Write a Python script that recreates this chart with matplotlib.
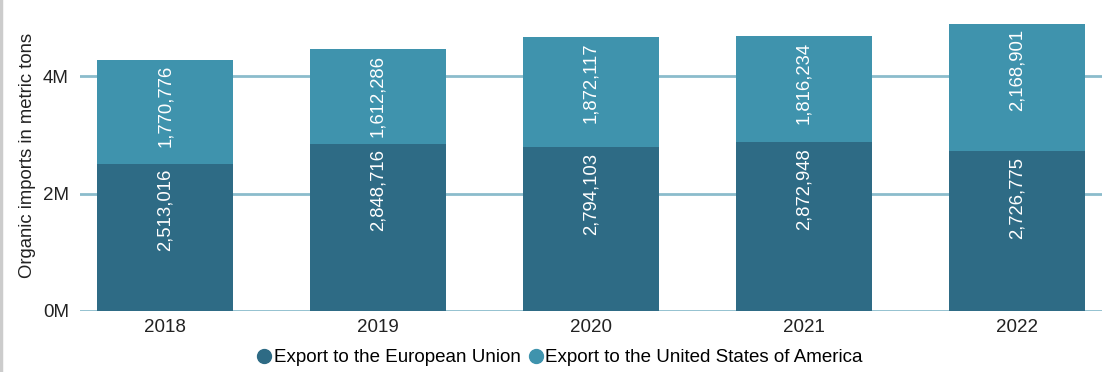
import matplotlib.pyplot as plt
from matplotlib.lines import Line2D

plt.rcParams['font.family'] = ['Liberation Sans', 'DejaVu Sans']

years = ['2018', '2019', '2020', '2021', '2022']
eu = [2513016, 2848716, 2794103, 2872948, 2726775]
usa = [1770776, 1612286, 1872117, 1816234, 2168901]

dark = '#2e6b85'
light = '#3f93ad'
grid = '#8bbccc'

fig = plt.figure(figsize=(11.02, 3.72), dpi=100)
ax = fig.add_axes([0.0726, 0.164, 0.9274, 0.836])

x = range(len(years))
b1 = ax.bar(x, eu, width=0.64, color=dark, zorder=3)
b2 = ax.bar(x, usa, width=0.64, bottom=eu, color=light, zorder=3)

# labels sit near the top of each segment
for bars, vals, bots in [(b1, eu, [0] * 5), (b2, usa, eu)]:
    for rect, v, b in zip(bars, vals, bots):
        ax.annotate(f'{v:,}', (rect.get_x() + rect.get_width() / 2, b + v),
                    xytext=(0, -4), textcoords='offset points',
                    rotation=90, ha='center', va='top', color='white',
                    fontsize=13.3, zorder=4)

ax.set_xlim(-0.4, 4.4)
ax.set_ylim(0, 5.3e6)
ax.set_yticks([0, 2e6, 4e6])
ax.set_yticklabels(['0M', '2M', '4M'])
ax.set_xticks(list(x))
ax.set_xticklabels(years)
ax.grid(axis='y', color=grid, linewidth=2, zorder=1)
ax.tick_params(length=0, labelsize=13.5, colors='#222222', pad=6)
ax.tick_params(axis='y', pad=8)
for s in ax.spines.values():
    s.set_visible(False)
ax.set_ylabel('Organic imports in metric tons', fontsize=13.3, color='#222222', labelpad=5)

handles = [Line2D([], [], marker='o', linestyle='', color=dark, markersize=10),
           Line2D([], [], marker='o', linestyle='', color=light, markersize=10)]
fig.legend(handles, ['Export to the European Union', 'Export to the United States of America'],
           loc='center', bbox_to_anchor=(0.507, 0.038), ncol=2, frameon=False,
           fontsize=13.5, handletextpad=0.0, columnspacing=0.3, handlelength=1.0)

fig.add_artist(Line2D([0.001, 0.001], [0, 1], transform=fig.transFigure,
                      color='#cccccc', linewidth=2.5))

fig.savefig('out.png', dpi=100)
